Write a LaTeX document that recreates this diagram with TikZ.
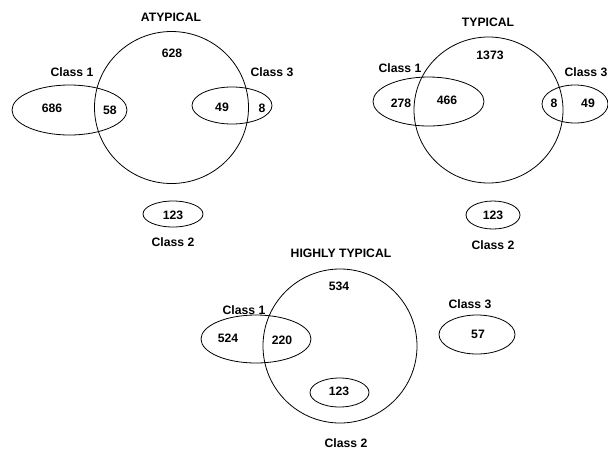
\documentclass[tikz,border=0pt]{standalone}
\usepackage{fontspec}
\setmainfont{Liberation Sans}
\begin{document}
\begin{tikzpicture}[x=1pt,y=-1pt,
  lbl/.style={font=\fontsize{12.2}{13}\selectfont\bfseries, inner sep=0pt},
  ring/.style={draw=black, line width=0.8pt}]
\useasboundingbox (0,0) rectangle (608,451);
% ---------- ATYPICAL ----------
\node[lbl] (aT) at (171,17) {ATYPICAL};
\draw[ring] (171.5,107.5) ellipse [x radius=77pt, y radius=76pt];
\draw[ring] (69.5,110) ellipse [x radius=57.5pt, y radius=25pt];
\draw[ring] (232,105.5) ellipse [x radius=40pt, y radius=18.5pt];
\draw[ring] (173,214) ellipse [x radius=30pt, y radius=13pt];
\node[lbl] (aN) at (172,53) {628};
\node[lbl] (aC1) at (72,72) {Class 1};
\node[lbl] (aC3) at (272,72) {Class 3};
\node[lbl] (a686) at (52,108) {686};
\node[lbl] (a58) at (110,110) {58};
\node[lbl] (a49) at (222,107) {49};
\node[lbl] (a8) at (262,108) {8};
\node[lbl] (a123) at (173,215) {123};
\node[lbl] (aC2) at (173,242) {Class 2};
% ---------- TYPICAL ----------
\node[lbl] (tT) at (488,22) {TYPICAL};
\draw[ring] (488.5,110) ellipse [x radius=74.5pt, y radius=73pt];
\draw[ring] (428.5,101.5) ellipse [x radius=55.5pt, y radius=24.5pt];
\draw[ring] (575,104) ellipse [x radius=33pt, y radius=19pt];
\draw[ring] (493,215) ellipse [x radius=27pt, y radius=14pt];
\node[lbl] (tN) at (490,55) {1373};
\node[lbl] (tC1) at (400,68) {Class 1};
\node[lbl] (tC3) at (586,72) {Class 3};
\node[lbl] (t278) at (401,103) {278};
\node[lbl] (t466) at (447,100) {466};
\node[lbl] (t8) at (554,103) {8};
\node[lbl] (t49) at (588,103) {49};
\node[lbl] (t123) at (493,215) {123};
\node[lbl] (tC2) at (493,245) {Class 2};
% ---------- HIGHLY TYPICAL ----------
\node[lbl] (hT) at (341,253) {HIGHLY TYPICAL};
\draw[ring] (340,346) ellipse [x radius=77pt, y radius=77pt];
\draw[ring] (256,339) ellipse [x radius=55pt, y radius=24pt];
\draw[ring] (339.5,392.5) ellipse [x radius=29.5pt, y radius=14.5pt];
\draw[ring] (477,334.5) ellipse [x radius=38pt, y radius=19.5pt];
\node[lbl] (hN) at (339,286) {534};
\node[lbl] (hC1) at (244,310) {Class 1};
\node[lbl] (h524) at (228,338) {524};
\node[lbl] (h220) at (282,340) {220};
\node[lbl] (h123) at (339,391) {123};
\node[lbl] (hC2) at (346,443) {Class 2};
\node[lbl] (hC3) at (470,304) {Class 3};
\node[lbl] (h57) at (478,334) {57};
\end{tikzpicture}
\end{document}
